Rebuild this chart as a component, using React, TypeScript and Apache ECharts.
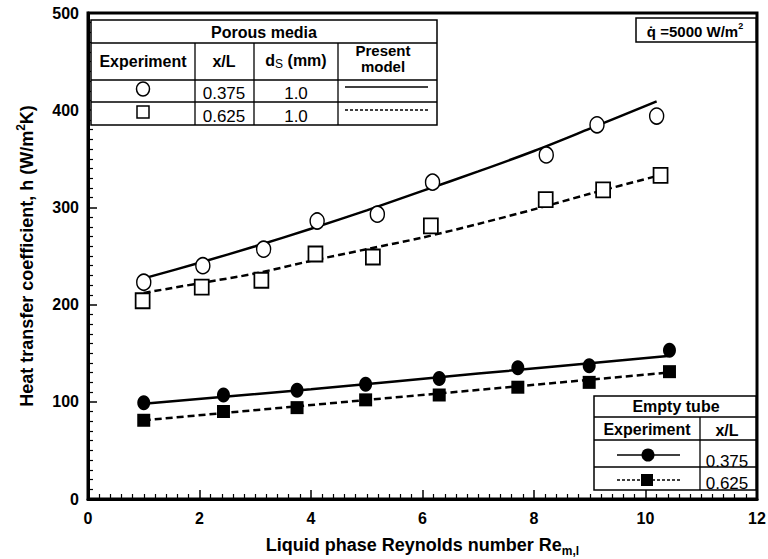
import React, { useEffect, useRef } from "react";
import * as echarts from "echarts";

// Porous media, present model curves
const modelSolidX = [1.0, 2, 3, 4, 5, 6, 7, 8, 9, 10.2];
const modelSolidY = [227, 243, 260, 278, 297, 317, 337, 358, 381, 409];
const modelDashX = [1.0, 2, 3, 4, 5, 6, 7, 8, 9, 10.25];
const modelDashY = [212, 222, 232, 245, 257, 269, 283, 298, 314, 333];
// Porous media, experiment
const openCircleX = [1.0, 2.06, 3.15, 4.11, 5.19, 6.18, 8.22, 9.13, 10.2];
const openCircleY = [223, 240, 257, 286, 293, 326, 354, 385, 394];
const openSquareX = [0.98, 2.04, 3.11, 4.08, 5.11, 6.15, 8.21, 9.24, 10.27];
const openSquareY = [204, 218, 225, 252, 249, 281, 308, 318, 333];
// Empty tube
const emptyX = [1.0, 2.43, 3.75, 4.98, 6.3, 7.71, 8.99, 10.43];
const filledCircleY = [99, 107, 112, 118, 124, 135, 137, 153];
const filledSquareY = [81, 90, 94, 102, 107, 115, 120, 131];
const emptySolidX = [1.0, 4, 7, 10.4];
const emptySolidY = [98, 113, 129, 147];
const emptyDashX = [1.0, 10.4];
const emptyDashY = [81, 130];

const xTicks = { min: 0, max: 12, interval: 2 };
const yTicks = { min: 0, max: 500, interval: 100 };

const FONT = "'Liberation Sans', Arial, Helvetica, sans-serif";

const zip = (xs: number[], ys: number[]) => xs.map((x, i) => [x, ys[i]]);

export default function App() {
  const ref = useRef<HTMLDivElement>(null);
  useEffect(() => {
    if (!ref.current) return;
    const chart = echarts.init(ref.current, undefined, { renderer: "svg" });
    const black = "#000";
    const txt = (x: number, y: number, text: string, size: number, bold: boolean, rich?: any) => ({
      type: "text",
      x,
      y,
      style: {
        text,
        fill: black,
        fontFamily: FONT,
        fontSize: size,
        fontWeight: bold ? "bold" : "normal",
        align: "center",
        verticalAlign: "middle",
        rich,
      },
      z: 20,
    });
    const hline = (x1: number, x2: number, y: number, w = 1.3, dash?: number[]) => ({
      type: "line",
      shape: { x1, y1: y, x2, y2: y },
      style: { stroke: black, lineWidth: w, lineDash: dash },
      z: 20,
    });
    const vline = (x: number, y1: number, y2: number) => ({
      type: "line",
      shape: { x1: x, y1, x2: x, y2 },
      style: { stroke: black, lineWidth: 1.3 },
      z: 20,
    });
    const boxRect = (x: number, y: number, w: number, h: number) => ({
      type: "rect",
      shape: { x, y, width: w, height: h },
      style: { fill: "#fff", stroke: black, lineWidth: 1.5 },
      z: 19,
    });

    const graphic: any[] = [
      // Porous media table
      boxRect(91, 20, 346, 105),
      hline(91, 437, 43),
      hline(91, 437, 80),
      hline(91, 437, 102),
      vline(195, 43, 125),
      vline(254, 43, 125),
      vline(338, 43, 125),
      txt(264, 32, "Porous media", 16, true),
      txt(143, 61, "Experiment", 16, true),
      txt(224, 61, "x/L", 16, true),
      txt(296, 60, "d{sub|S} (mm)", 16, true, {
        sub: { fontSize: 12, fontWeight: "normal", fontFamily: FONT, padding: [8, 0, 0, 0] },
      }),
      txt(383, 50, "Present", 15, true),
      txt(383, 66, "model", 15, true),
      {
        type: "ellipse",
        shape: { cx: 143, cy: 89, rx: 6.5, ry: 7 },
        style: { fill: "#fff", stroke: black, lineWidth: 1.5 },
        z: 21,
      },
      {
        type: "rect",
        shape: { x: 137, y: 106, width: 12, height: 12 },
        style: { fill: "#fff", stroke: black, lineWidth: 1.5 },
        z: 21,
      },
      txt(224, 93, "0.375", 17, false),
      txt(224, 116, "0.625", 17, false),
      txt(296, 93, "1.0", 17, false),
      txt(296, 116, "1.0", 17, false),
      hline(345, 428, 87, 1.5),
      hline(345, 428, 110, 1.5, [3, 2]),
      // heat flux box
      boxRect(636, 18, 120, 24),
      txt(695, 31, "q\u0307 =5000 W/m{sup|2}", 15, true, {
        sup: { fontSize: 9, fontWeight: "bold", fontFamily: FONT, padding: [0, 0, 10, 0] },
      }),
      // Empty tube table
      boxRect(594, 396, 162, 94),
      hline(594, 756, 417),
      hline(594, 756, 440),
      hline(594, 756, 467),
      vline(700, 417, 490),
      txt(676, 406, "Empty tube", 16, true),
      txt(647, 429, "Experiment", 16, true),
      txt(727, 430, "x/L", 16, true),
      hline(617, 680, 455, 1.5),
      {
        type: "circle",
        shape: { cx: 648, cy: 455, r: 6.5 },
        style: { fill: black },
        z: 21,
      },
      hline(617, 680, 480, 1.5, [3, 2]),
      {
        type: "rect",
        shape: { x: 641, y: 474, width: 12, height: 12 },
        style: { fill: black },
        z: 21,
      },
      txt(727, 461, "0.375", 17, false),
      txt(727, 483, "0.625", 17, false),
    ];

    const axisCommon = {
      axisLine: { show: true, lineStyle: { color: black, width: 3 } },
      axisTick: { show: true, inside: true, length: 9, lineStyle: { color: black, width: 1.5 } },
      minorTick: { show: true, splitNumber: 10, length: 5, lineStyle: { color: black, width: 1.2 } },
      splitLine: { show: false },
      minorSplitLine: { show: false },
      axisLabel: { color: black, fontWeight: "bold", fontSize: 16, fontFamily: FONT },
      nameTextStyle: { color: black, fontWeight: "bold", fontSize: 18, fontFamily: FONT },
    };

    chart.setOption({
      animation: false,
      backgroundColor: "#fff",
      grid: {
        left: 88,
        right: 11,
        top: 13,
        bottom: 60,
        outerBoundsMode: "none",
        containLabel: false,
        show: true,
        borderColor: black,
        borderWidth: 3,
        backgroundColor: "transparent",
      },
      xAxis: {
        type: "value",
        ...xTicks,
        ...axisCommon,
        axisLabel: { ...axisCommon.axisLabel, margin: 11 },
        name: "Liquid phase Reynolds number Re{sub|m,l}",
        nameLocation: "middle",
        nameGap: 34,
        nameTextStyle: {
          ...axisCommon.nameTextStyle,
          rich: {
            sub: { fontSize: 12, fontWeight: "bold", fontFamily: FONT, padding: [12, 0, 0, 0] },
          },
        },
      },
      yAxis: {
        type: "value",
        ...yTicks,
        ...axisCommon,
        axisLabel: { ...axisCommon.axisLabel, margin: 9 },
        name: "Heat transfer coefficient, h (W/m{sup|2}K)",
        nameLocation: "middle",
        nameGap: 50,
        nameTextStyle: {
          ...axisCommon.nameTextStyle,
          rich: {
            sup: { fontSize: 12, fontWeight: "bold", fontFamily: FONT, padding: [0, 0, 11, 0] },
          },
        },
      },
      series: [
        {
          type: "line",
          data: zip(modelSolidX, modelSolidY),
          smooth: 0.3,
          showSymbol: false,
          lineStyle: { color: black, width: 2.5 },
          z: 3,
        },
        {
          type: "line",
          data: zip(modelDashX, modelDashY),
          smooth: 0.3,
          showSymbol: false,
          lineStyle: { color: black, width: 2.5, type: [7, 4] },
          z: 3,
        },
        {
          type: "line",
          data: zip(emptySolidX, emptySolidY),
          smooth: 0.3,
          showSymbol: false,
          lineStyle: { color: black, width: 2.5 },
          z: 3,
        },
        {
          type: "line",
          data: zip(emptyDashX, emptyDashY),
          showSymbol: false,
          lineStyle: { color: black, width: 2.5, type: [7, 4] },
          z: 3,
        },
        {
          type: "scatter",
          data: zip(openCircleX, openCircleY),
          symbol: "circle",
          symbolSize: [14, 16],
          itemStyle: { color: "#fff", borderColor: black, borderWidth: 1.5, opacity: 1 },
          z: 5,
        },
        {
          type: "scatter",
          data: zip(openSquareX, openSquareY),
          symbol: "rect",
          symbolSize: [14, 15],
          itemStyle: { color: "#fff", borderColor: black, borderWidth: 1.8, opacity: 1 },
          z: 5,
        },
        {
          type: "scatter",
          data: zip(emptyX, filledCircleY),
          symbol: "circle",
          symbolSize: [13, 15],
          itemStyle: { color: black, opacity: 1 },
          z: 5,
        },
        {
          type: "scatter",
          data: zip(emptyX, filledSquareY),
          symbol: "rect",
          symbolSize: [13, 13],
          itemStyle: { color: black, opacity: 1 },
          z: 5,
        },
      ],
      graphic,
    });
    return () => chart.dispose();
  }, []);
  return (
    <div
      ref={ref}
      style={{ position: "fixed", left: 0, top: 0, width: 768, height: 559, background: "#fff" }}
    />
  );
}
